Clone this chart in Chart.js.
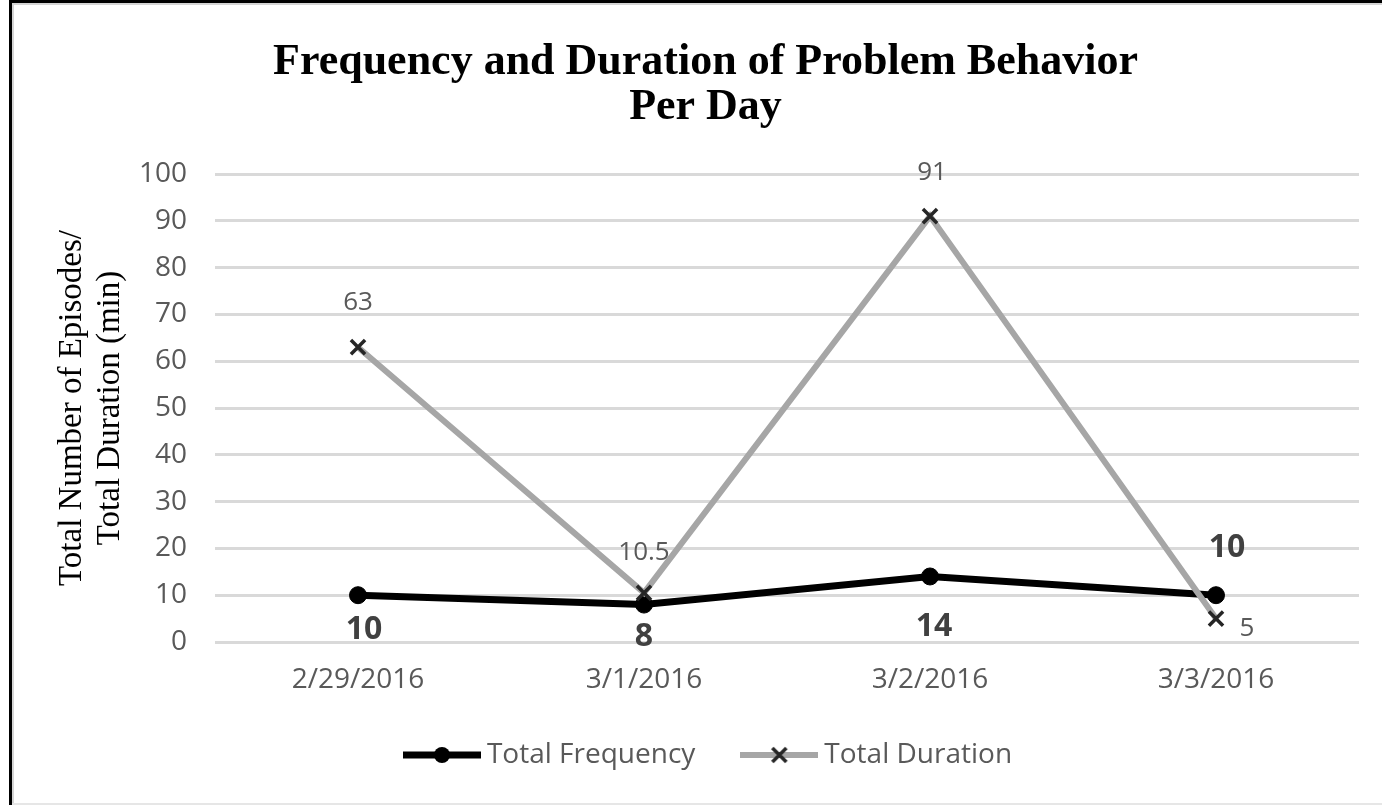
<!DOCTYPE html>
<html><head><meta charset="utf-8">
<script src="https://cdn.jsdelivr.net/npm/chart.js@4/dist/chart.umd.min.js"></script>
<style>
html,body{margin:0;padding:0;background:#fff;overflow:hidden}
#wrap{position:relative;width:1382px;height:805px;background:#fff}
canvas{position:absolute;left:0;top:0}
.b{position:absolute}
</style></head><body>
<div id="wrap">
<canvas id="c" width="1382" height="805"></canvas>
<div class="b" style="left:9px;top:0;width:3px;height:805px;background:#000"></div>
<div class="b" style="left:12px;top:3px;width:2px;height:802px;background:#d4d4d4"></div>
<div class="b" style="left:9px;top:0;width:1373px;height:3px;background:#000"></div>
<div class="b" style="left:12px;top:3px;width:1370px;height:2px;background:#d4d4d4"></div>
<div class="b" style="left:12px;top:803px;width:1370px;height:2px;background:#e6e6e6"></div>
</div>
<script>
const categories = ['2/29/2016', '3/1/2016', '3/2/2016', '3/3/2016'];
const totalFrequency = [10, 8, 14, 10];
const totalDuration = [63, 10.5, 91, 5];
const seriesNames = ['Total Frequency', 'Total Duration'];
const chartTitle = ['Frequency and Duration of Problem Behavior', 'Per Day'];
const yTitle = ['Total Number of Episodes/', 'Total Duration (min)'];
const yMin = 0, yMax = 100, yStep = 10;

// label styling / placement (pixel offsets from each point)
const labelStyle = [
  {font: 'bold 32px "Open Sans"', color: '#404040', offsets: [[6, 35], [0, 32], [4, 50], [11, -47]]},
  {font: '26px "Open Sans"', color: '#595959', offsets: [[0, -45], [0, -40], [2, -44], [31, 10]]}
];

function makeIcon(kind) {
  const c = document.createElement('canvas');
  c.width = 78; c.height = 24;
  const g = c.getContext('2d');
  g.lineCap = 'butt';
  if (kind === 0) {
    g.strokeStyle = '#000'; g.lineWidth = 7;
    g.beginPath(); g.moveTo(0, 12); g.lineTo(78, 12); g.stroke();
    g.fillStyle = '#000'; g.beginPath(); g.arc(39, 12, 8, 0, Math.PI * 2); g.fill();
  } else {
    g.strokeStyle = '#a6a6a6'; g.lineWidth = 6;
    g.beginPath(); g.moveTo(0, 12); g.lineTo(78, 12); g.stroke();
    g.strokeStyle = '#262626'; g.lineWidth = 3.5;
    g.beginPath(); g.moveTo(32, 5); g.lineTo(46, 19); g.moveTo(46, 5); g.lineTo(32, 19); g.stroke();
  }
  return c;
}

const valueLabels = {
  id: 'valueLabels',
  afterDatasetsDraw(chart) {
    const ctx = chart.ctx;
    chart.data.datasets.forEach((ds, i) => {
      const meta = chart.getDatasetMeta(i);
      const st = labelStyle[i];
      ctx.save();
      ctx.font = st.font; ctx.fillStyle = st.color;
      ctx.textAlign = 'center'; ctx.textBaseline = 'middle';
      meta.data.forEach((pt, j) => {
        const o = st.offsets[j];
        ctx.fillText(String(ds.data[j]), pt.x + o[0], pt.y + o[1]);
      });
      ctx.restore();
    });
  }
};

const blockShift = {
  id: 'blockShift',
  afterLayout(chart) {
    const lg = chart.legend;
    if (lg) { lg.left += 32; lg.right += 32; }
    const tb = chart.titleBlock;
    if (tb) { tb.left += 26; tb.right += 26; }
  }
};

function build() {
  const icons = [makeIcon(0), makeIcon(1)];
  new Chart(document.getElementById('c'), {
    type: 'line',
    data: {
      labels: categories,
      datasets: [
        {label: seriesNames[0], data: totalFrequency, borderColor: '#000', backgroundColor: '#000',
         borderWidth: 7, pointStyle: 'circle', pointRadius: 8.5, pointBackgroundColor: '#000',
         pointBorderColor: '#000', pointBorderWidth: 1, tension: 0, order: 1},
        {label: seriesNames[1], data: totalDuration, borderColor: '#a6a6a6', backgroundColor: '#a6a6a6',
         borderWidth: 6, pointStyle: 'crossRot', pointRadius: 10, pointBorderColor: '#262626',
         pointBackgroundColor: '#262626', pointBorderWidth: 3.5, tension: 0, order: 0}
      ]
    },
    options: {
      responsive: false, animation: false, devicePixelRatio: 1,
      events: [],
      layout: {padding: {left: 0, right: 23, top: 0, bottom: 26}},
      plugins: {
        tooltip: {enabled: false},
        title: {display: true, text: chartTitle, color: '#000',
          font: {family: 'Liberation Serif', size: 44, weight: 'bold', lineHeight: 45 / 44},
          padding: {top: 40, bottom: 44}},
        legend: {
          position: 'bottom',
          labels: {
            usePointStyle: true, pointStyleWidth: 62, padding: 53,
            color: '#595959', font: {family: 'Open Sans', size: 28},
            generateLabels(chart) {
              return chart.data.datasets.map((ds, i) => ({
                text: ds.label, pointStyle: icons[i], fillStyle: ds.borderColor,
                strokeStyle: ds.borderColor, lineWidth: 0, hidden: false, datasetIndex: i,
                fontColor: '#595959'
              }));
            }
          }
        }
      },
      scales: {
        x: {
          type: 'category', offset: true,
          grid: {display: false, drawTicks: false}, border: {display: false},
          ticks: {color: '#595959', font: {family: 'Open Sans', size: 28}, padding: 21, maxRotation: 0},
          afterFit(s) { s.height = 46; }
        },
        y: {
          min: yMin, max: yMax,
          grid: {color: '#d9d9d9', lineWidth: 3, drawTicks: false}, border: {display: false},
          ticks: {stepSize: yStep, color: '#595959', font: {family: 'Open Sans', size: 28}, padding: 28},
          title: {display: true, text: yTitle, color: '#000',
            font: {family: 'Liberation Serif', size: 33, lineHeight: 38 / 33},
            padding: {top: 53, bottom: 0}},
          afterFit(s) { s.width = 215; }
        }
      }
    },
    plugins: [valueLabels, blockShift]
  });
}

Promise.all([
  document.fonts.load('28px "Open Sans"'),
  document.fonts.load('bold 32px "Open Sans"'),
  document.fonts.load('33px "Liberation Serif"'),
  document.fonts.load('bold 44px "Liberation Serif"')
]).then(build, build);
</script>
</body></html>
